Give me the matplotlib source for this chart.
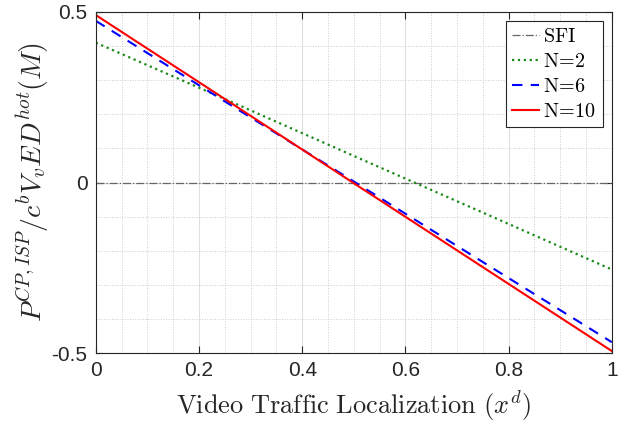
import matplotlib
matplotlib.use("Agg")
import matplotlib.pyplot as plt
import numpy as np
from matplotlib.ticker import MultipleLocator

plt.rcParams['mathtext.fontset'] = 'cm'
plt.rcParams['font.family'] = ['Liberation Sans', 'DejaVu Sans']

x = [0.0, 0.25, 0.5, 0.75, 1.0]
sfi = [0.0, 0.0, 0.0, 0.0, 0.0]
n2 = [0.41, 0.245, 0.078, -0.088, -0.255]
n6 = [0.474, 0.238, 0.003, -0.233, -0.468]
n10 = [0.491, 0.245, -0.002, -0.248, -0.494]

xticks = [0, 0.2, 0.4, 0.6, 0.8, 1]
xticklabels = ['0', '0.2', '0.4', '0.6', '0.8', '1']
yticks = [-0.5, 0, 0.5]
yticklabels = ['-0.5', '0', '0.5']

fig = plt.figure(figsize=(6.18, 4.28), dpi=100)
ax = fig.add_axes([0.155, 0.175, 0.835, 0.797])

ax.plot(x, sfi, color='#666666', linestyle='-.', linewidth=0.9, label=r'$\mathrm{SFI}$')
ax.plot(x, n2, color='#1a8a1a', linestyle=':', linewidth=1.6, label=r'$\mathrm{N\!=\!2}$')
ax.plot(x, n6, color='#0000ff', linestyle=(0, (5, 4)), linewidth=1.5, label=r'$\mathrm{N\!=\!6}$')
ax.plot(x, n10, color='#ff0000', linestyle='-', linewidth=1.5, label=r'$\mathrm{N\!=\!10}$')

ax.set_xlim(0, 1)
ax.set_ylim(-0.5, 0.5)
ax.set_xticks(xticks)
ax.set_xticklabels(xticklabels)
ax.set_yticks(yticks)
ax.set_yticklabels(yticklabels)
ax.xaxis.set_minor_locator(MultipleLocator(0.05))
ax.yaxis.set_minor_locator(MultipleLocator(0.1))
ax.grid(which='major', color='#e0e0e0', linestyle='-', linewidth=0.8)
ax.grid(which='minor', color='#cccccc', linestyle=':', linewidth=0.7)
ax.set_axisbelow(True)
ax.tick_params(which='both', direction='in', top=True, right=True, labelsize=15, colors='#262626', pad=6)
ax.tick_params(which='minor', length=0)
ax.tick_params(which='major', length=5)
for s in ax.spines.values():
    s.set_color('#262626')
    s.set_linewidth(0.8)

ax.set_xlabel(r'$\mathrm{Video\ Traffic\ Localization}\ (x^d)$', fontsize=19, color='#262626', labelpad=6)
ax.set_ylabel(r'$P^{CP,ISP}/c^bV_vED^{hot}(M)$', fontsize=20, color='#262626', labelpad=0)

leg = ax.legend(loc='upper right', fontsize=14.5, handlelength=1.35, handletextpad=0.2,
                borderaxespad=0.45, labelspacing=0.3, borderpad=0.3, fancybox=False, framealpha=1)
leg.get_frame().set_edgecolor('#262626')
leg.get_frame().set_linewidth(0.8)

fig.savefig('out.png', dpi=100)
